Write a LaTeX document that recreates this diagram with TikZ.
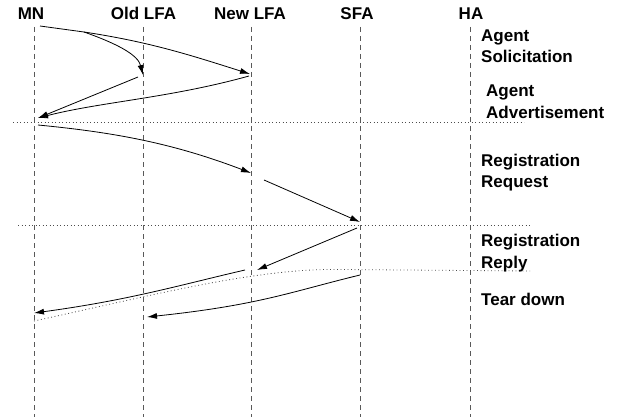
\documentclass[tikz,border=0pt]{standalone}
\usepackage{fontspec}
\setmainfont{Liberation Sans}
\usetikzlibrary{arrows.meta}
\begin{document}
\begin{tikzpicture}[x=1pt,y=-1pt,
  lbl/.style={font=\fontsize{17}{21}\selectfont\bfseries, inner sep=0pt},
  life/.style={draw=black!65, line width=0.9pt, dash pattern=on 5pt off 4pt},
  sep/.style={draw=black!70, line width=0.8pt, dash pattern=on 0.9pt off 2.6pt},
  msg/.style={draw=black, line width=0.8pt, -{Latex[length=10pt,width=6pt]}},
  plain/.style={draw=black, line width=0.8pt}]
\useasboundingbox (0,0) rectangle (623,417);
% lifeline labels
\node[lbl, anchor=base] (mn) at (31,20) {MN};
\node[lbl, anchor=base] (old) at (143.5,20) {Old LFA};
\node[lbl, anchor=base] (new) at (250,20) {New LFA};
\node[lbl, anchor=base] (sfa) at (357,20) {SFA};
\node[lbl, anchor=base] (ha) at (471,20) {HA};
% lifelines
\coordinate (mnT) at (34.3,27); \coordinate (mnB) at (34.3,417);
\coordinate (oldT) at (143.3,27); \coordinate (oldB) at (143.3,417);
\coordinate (newT) at (251.7,27); \coordinate (newB) at (251.7,417);
\coordinate (sfaT) at (360.5,27); \coordinate (sfaB) at (360.5,417);
\coordinate (haT) at (470,27); \coordinate (haB) at (470,417);
\draw[life] (mnT) -- (mnB);
\draw[life] (oldT) -- (oldB);
\draw[life] (newT) -- (newB);
\draw[life] (sfaT) -- (sfaB);
\draw[life] (haT) -- (haB);
% separators
\coordinate (s1a) at (13,122); \coordinate (s1b) at (524,122);
\coordinate (s2a) at (18,225); \coordinate (s2b) at (530,225);
\coordinate (s3a) at (34,321); \coordinate (s3m) at (340,269.5); \coordinate (s3b) at (530,271);
\draw[sep] (s1a) -- (s1b);
\draw[sep] (s2a) -- (s2b);
\draw[sep] (s3a) .. controls (150,296) and (255,268) .. (s3m) -- (s3b);
% right labels
\node[lbl, anchor=base west] (as1) at (481,42) {Agent};
\node[lbl, anchor=base west] (as2) at (481,63) {Solicitation};
\node[lbl, anchor=base west] (aa1) at (486,97) {Agent};
\node[lbl, anchor=base west] (aa2) at (486,118) {Advertisement};
\node[lbl, anchor=base west] (rq1) at (481,166) {Registration};
\node[lbl, anchor=base west] (rq2) at (481,187) {Request};
\node[lbl, anchor=base west] (rp1) at (481,246) {Registration};
\node[lbl, anchor=base west] (rp2) at (481,268) {Reply};
\node[lbl, anchor=base west] (td) at (481,305) {Tear down};
% messages
\coordinate (a0) at (40,26); \coordinate (ab) at (84,32);
\coordinate (a1) at (143,75); \coordinate (a2) at (250,74);
\draw[msg] (a0) -- (ab) .. controls (150,42) and (190,55) .. (a2);
\draw[msg] (ab) .. controls (118,44) and (138,55) .. (a1);
\coordinate (b1) at (138,77); \coordinate (b2) at (249,76); \coordinate (bm) at (38,118);
\draw[msg] (b1) -- (bm);
\draw[msg] (b2) .. controls (170,98) and (100,102) .. (bm);
\coordinate (c0) at (38,125); \coordinate (c1) at (251,173);
\draw[msg] (c0) .. controls (110,132) and (170,142) .. (c1);
\coordinate (d0) at (264,180); \coordinate (d1) at (360,222);
\draw[msg] (d0) -- (d1);
\coordinate (e0) at (357,228); \coordinate (e1) at (257,270);
\draw[msg] (e0) -- (e1);
\coordinate (f0) at (245,270); \coordinate (f1) at (34,313);
\draw[msg] (f0) .. controls (180,285) and (130,300) .. (f1);
\coordinate (g0) at (360,275); \coordinate (g1) at (147,317);
\draw[msg] (g0) .. controls (290,292) and (260,305) .. (g1);
\end{tikzpicture}
\end{document}
